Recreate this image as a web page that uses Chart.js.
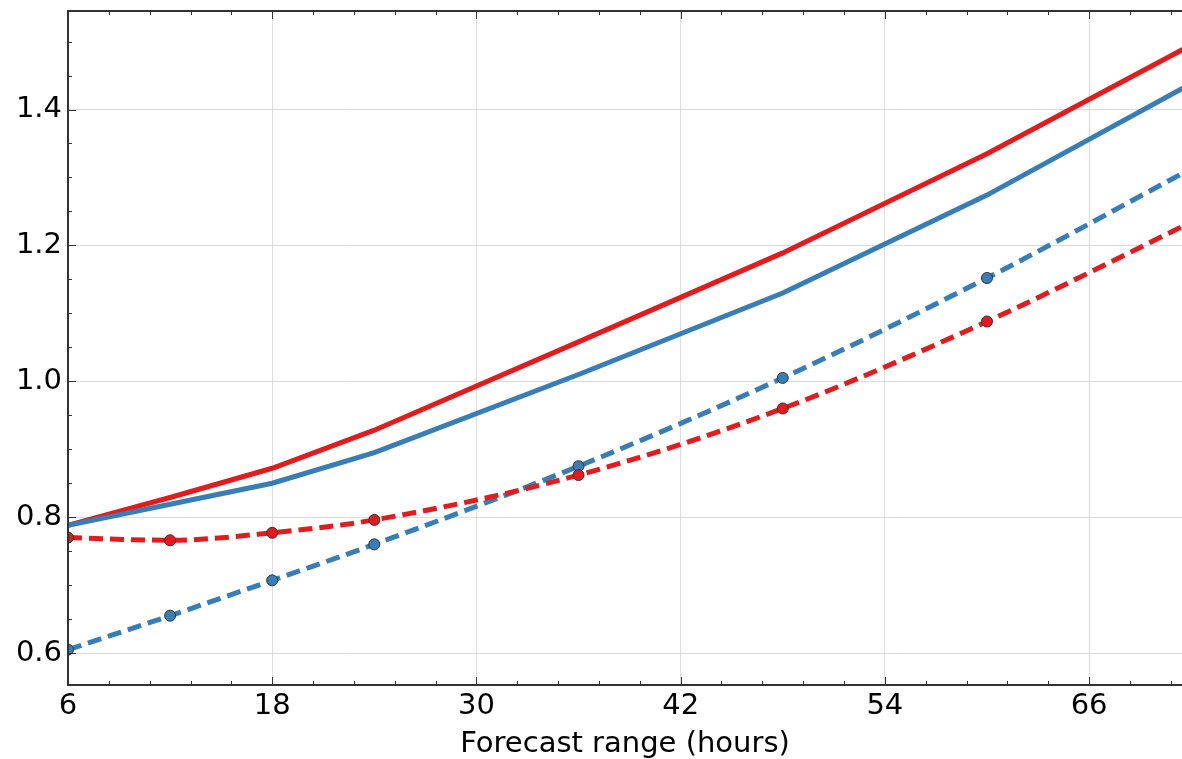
<!DOCTYPE html>
<html lang="en">
<head>
    <meta charset="UTF-8">
    <title>Forecast range</title>
    <script src="https://cdn.jsdelivr.net/npm/chart.js"></script>
    <style>
        html, body { margin: 0; padding: 0; background: #fff; }
        canvas { display: block; }
    </style>
</head>
<body>
    <canvas id="rangeChart" width="1182" height="759"></canvas>
    <script>
        // forecast hours and the four curves
        const hours = [6, 12, 18, 24, 36, 48, 60, 72];
        const redSolid = [0.788, 0.829, 0.872, 0.928, 1.058, 1.189, 1.335, 1.495];
        const blueSolid = [0.788, 0.819, 0.850, 0.895, 1.010, 1.130, 1.274, 1.438];
        const blueDashed = [0.605, 0.655, 0.707, 0.760, 0.875, 1.005, 1.152, 1.313];
        const redDashed = [0.770, 0.766, 0.777, 0.796, 0.862, 0.960, 1.088, 1.234];

        const xTicks = [6, 18, 30, 42, 54, 66];
        const yTicks = [0.6, 0.8, 1.0, 1.2, 1.4];
        const yTickLabels = ['0.6', '0.8', '1.0', '1.2', '1.4'];
        const xTitle = 'Forecast range (hours)';

        const RED = '#e41a1c';
        const BLUE = '#377eb8';
        const FONT = { family: 'DejaVu Sans', size: 29 };

        function pts(values) {
            return hours.map((h, i) => ({ x: h, y: values[i] }));
        }

        // spines + inward ticks, matplotlib style
        const framePlugin = {
            id: 'frame',
            afterDraw(chart) {
                const ctx = chart.ctx;
                const a = chart.chartArea;
                const xs = chart.scales.x;
                const ys = chart.scales.y;
                ctx.save();
                ctx.strokeStyle = '#333';
                ctx.lineWidth = 1;
                ctx.beginPath();
                // minor x ticks every 2.4 h
                for (let v = xs.min; v <= xs.max; v += 2.4) {
                    const px = Math.round(xs.getPixelForValue(v)) + 0.5;
                    ctx.moveTo(px, a.bottom); ctx.lineTo(px, a.bottom - 4);
                    ctx.moveTo(px, a.top); ctx.lineTo(px, a.top + 4);
                }
                // minor y ticks every 0.05
                for (let v = 0.55; v <= ys.max; v += 0.05) {
                    if (v < ys.min) continue;
                    const py = Math.round(ys.getPixelForValue(v)) + 0.5;
                    ctx.moveTo(a.left, py); ctx.lineTo(a.left + 4, py);
                }
                xTicks.forEach(v => {
                    const px = Math.round(xs.getPixelForValue(v)) + 0.5;
                    ctx.moveTo(px, a.bottom); ctx.lineTo(px, a.bottom - 8);
                    ctx.moveTo(px, a.top); ctx.lineTo(px, a.top + 8);
                });
                yTicks.forEach(v => {
                    const py = Math.round(ys.getPixelForValue(v)) + 0.5;
                    ctx.moveTo(a.left, py); ctx.lineTo(a.left + 8, py);
                });
                ctx.stroke();

                ctx.lineWidth = 2;
                ctx.beginPath();
                ctx.moveTo(a.right + 2, a.top);
                ctx.lineTo(a.left, a.top);
                ctx.lineTo(a.left, a.bottom);
                ctx.lineTo(a.right + 2, a.bottom);
                ctx.stroke();
                ctx.restore();
            }
        };

        const lineStyle = {
            borderWidth: 5,
            fill: false,
            clip: 0,
            borderCapStyle: 'butt',
            pointBorderColor: '#333',
            pointBorderWidth: 1
        };

        new Chart(document.getElementById('rangeChart'), {
            type: 'line',
            data: {
                datasets: [
                    Object.assign({}, lineStyle, {
                        label: 'red dashed', data: pts(redDashed),
                        borderColor: RED, backgroundColor: RED, borderDash: [14, 7],
                        pointRadius: 5.5, cubicInterpolationMode: 'monotone'
                    }),
                    Object.assign({}, lineStyle, {
                        label: 'blue dashed', data: pts(blueDashed),
                        borderColor: BLUE, backgroundColor: BLUE, borderDash: [14, 7],
                        pointRadius: 5.5, cubicInterpolationMode: 'monotone'
                    }),
                    Object.assign({}, lineStyle, {
                        label: 'blue solid', data: pts(blueSolid),
                        borderColor: BLUE, pointRadius: 0
                    }),
                    Object.assign({}, lineStyle, {
                        label: 'red solid', data: pts(redSolid),
                        borderColor: RED, pointRadius: 0
                    })
                ]
            },
            options: {
                responsive: false,
                animation: false,
                layout: {
                    autoPadding: false,
                    padding: { top: 11, right: 0, left: 0, bottom: 0 }
                },
                plugins: {
                    legend: { display: false },
                    tooltip: { enabled: false }
                },
                scales: {
                    x: {
                        type: 'linear',
                        min: 6,
                        max: 71.46,
                        afterBuildTicks(scale) {
                            scale.ticks = xTicks.map(v => ({ value: v }));
                        },
                        afterFit(scale) {
                            scale.height = 74;
                            scale.paddingLeft = 0;
                            scale.paddingRight = 0;
                        },
                        grid: { color: '#dddddd', lineWidth: 1, drawTicks: false },
                        border: { display: false },
                        ticks: {
                            font: FONT, color: '#000', padding: 4,
                            maxRotation: 0, autoSkip: false,
                            callback: v => String(v)
                        },
                        title: {
                            display: true, text: xTitle, font: FONT, color: '#000',
                            padding: { top: 0, bottom: -3 }
                        }
                    },
                    y: {
                        min: 0.553,
                        max: 1.545,
                        afterBuildTicks(scale) {
                            scale.ticks = yTicks.map(v => ({ value: v }));
                        },
                        afterFit(scale) {
                            scale.width = 68;
                            scale.paddingTop = 0;
                            scale.paddingBottom = 0;
                        },
                        grid: { color: '#dddddd', lineWidth: 1, drawTicks: false },
                        border: { display: false },
                        ticks: {
                            font: FONT, color: '#000', padding: 6,
                            callback: (v, i) => yTickLabels[i]
                        }
                    }
                }
            },
            plugins: [framePlugin]
        });
    </script>
</body>
</html>
